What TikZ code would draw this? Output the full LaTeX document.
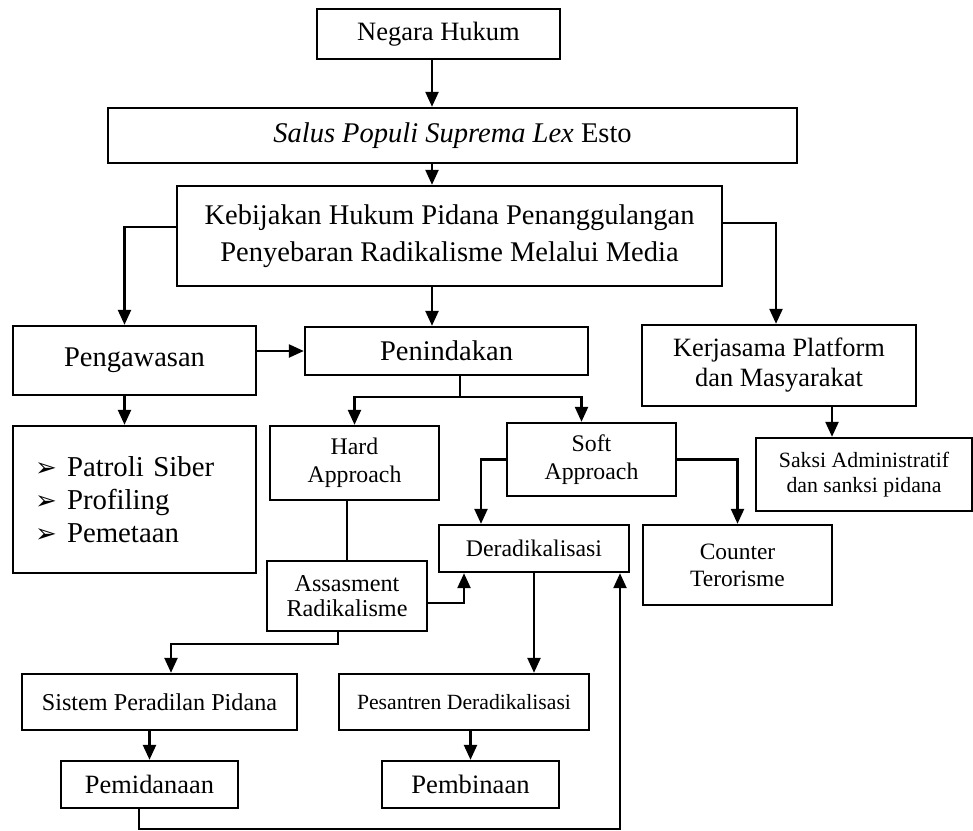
\documentclass[tikz,border=0pt]{standalone}
\usepackage{fontspec}
\setmainfont{Liberation Serif}
\newfontfamily\dingfont{DejaVu Sans}
\usetikzlibrary{arrows.meta,positioning,calc}

\newcommand{\fsz}[2]{\fontsize{#1}{#2}\selectfont}
\newcommand{\itm}[1]{\makebox[32pt][l]{\dingfont\fsz{26}{33}➢}#1}

\begin{document}
\begin{tikzpicture}[x=1pt, y=-1pt,
  box/.style={draw, line width=2.4pt, inner sep=0pt, align=center},
  arr/.style={-{Triangle[length=15pt,width=13pt]}, line width=2.4pt},
  ln/.style={line width=2.4pt}]
\useasboundingbox (0,0) rectangle (973,830);

% top chain
\node[box, minimum width=243pt, minimum height=50pt, font=\fsz{26.5}{30}] (negara) at (438.5,34) {Negara Hukum};
\node[box, minimum width=689pt, minimum height=55pt, font=\fsz{28.5}{33}] (salus) at (452.5,135.5) {\textit{Salus Populi Suprema Lex} Esto};
\node[box, minimum width=545pt, minimum height=100pt, font=\fsz{28.5}{37}] (kebijakan) at (449.5,236) {Kebijakan Hukum Pidana Penanggulangan\\Penyebaran Radikalisme Melalui Media};

% second level
\node[box, minimum width=243pt, minimum height=69pt, font=\fsz{28.5}{33}] (pengawasan) at (134.5,360.5) {Pengawasan};
\node[box, minimum width=283pt, minimum height=48pt, font=\fsz{28.5}{33}] (penindakan) at (446.5,351) {Penindakan};
\node[box, minimum width=274pt, minimum height=81pt, font=\fsz{26.4}{30}] (kerjasama) at (779,365.5) {Kerjasama Platform\\dan Masyarakat};
\node[box, minimum width=216pt, minimum height=73pt, font=\fsz{21.8}{25}] (saksi) at (864,474.5) {Saksi Administratif\\dan sanksi pidana};

\node[box, minimum width=243pt, minimum height=147pt, text width=199pt, align=left, font=\fsz{28.8}{33}] (patroli) at (134.5,499.5) {\itm{Patroli Siber}\\\itm{Profiling}\\\itm{Pemetaan}};

% approaches
\node[box, minimum width=169pt, minimum height=74pt, font=\fsz{23.8}{28}] (hard) at (354.5,463) {Hard\\Approach};
\node[box, minimum width=169pt, minimum height=73pt, font=\fsz{23.8}{28}] (soft) at (591.5,459.5) {Soft\\Approach};
\node[box, minimum width=190pt, minimum height=47pt, font=\fsz{23.8}{28}] (derad) at (534,548.5) {Deradikalisasi};
\node[box, minimum width=189pt, minimum height=80pt, font=\fsz{23.4}{27}] (counter) at (737.5,565) {Counter\\Terorisme};
\node[box, minimum width=160pt, minimum height=70pt, font=\fsz{24.2}{25}] (assas) at (347,596) {Assasment\\Radikalisme};

% bottom
\node[box, minimum width=275pt, minimum height=56pt, font=\fsz{24.2}{28}] (sistem) at (159.5,702) {Sistem Peradilan Pidana};
\node[box, minimum width=250pt, minimum height=56pt, font=\fsz{21.7}{25}] (pesantren) at (464,702) {Pesantren Deradikalisasi};
\node[box, minimum width=177pt, minimum height=47pt, font=\fsz{26.4}{30}] (pemidanaan) at (149.5,784.5) {Pemidanaan};
\node[box, minimum width=177pt, minimum height=47pt, font=\fsz{26.6}{30}] (pembinaan) at (470.5,784.5) {Pembinaan};

% connectors
\coordinate (axis) at (432,0);
\draw[arr] (negara.south -| axis) -- (salus.north -| axis);
\draw[arr] (salus.south -| axis) -- (kebijakan.north -| axis);
\draw[arr] (kebijakan.south -| axis) -- (penindakan.north -| axis);
\draw[arr] ([yshift=9pt]kebijakan.west) -| ([xshift=-10pt]pengawasan.north);
\draw[arr] ([yshift=13pt]kebijakan.east) -| ([xshift=-3pt]kerjasama.north);
\draw[arr] (pengawasan.east |- penindakan) -- (penindakan.west);
\draw[arr] ([xshift=-10pt]pengawasan.south) -- ([xshift=-10pt]patroli.north);
\draw[arr] ([xshift=53pt]kerjasama.south) -- ([xshift=53pt]kerjasama.south |- saksi.north);

\draw[ln] ([xshift=13.5pt]penindakan.south) -- ++(0,21) coordinate (split);
\draw[arr] (split) -| (hard.north);
\draw[arr] (split) -| ([xshift=-10pt]soft.north);
\draw[ln] (assas.north |- hard.south) -- (assas.north);
\draw[arr] (soft.west) -| ([xshift=-53pt]derad.north);
\draw[arr] (soft.east) -| (counter.north);
\draw[arr] ([yshift=-7pt]assas.east) -| ([xshift=-70pt]derad.south);
\draw[arr] (derad.south) -- (derad.south |- pesantren.north);
\draw[arr] (pembinaan.north |- pesantren.south) -- (pembinaan.north);
\draw[arr] ([xshift=-9pt]assas.south) -- ++(0,12) -| ([xshift=11.5pt]sistem.north);
\draw[arr] (pemidanaan.north |- sistem.south) -- (pemidanaan.north);
\draw[arr] ([xshift=-10.5pt]pemidanaan.south) -- ++(0,20) -| ([xshift=86pt]derad.south);

\end{tikzpicture}
\end{document}
